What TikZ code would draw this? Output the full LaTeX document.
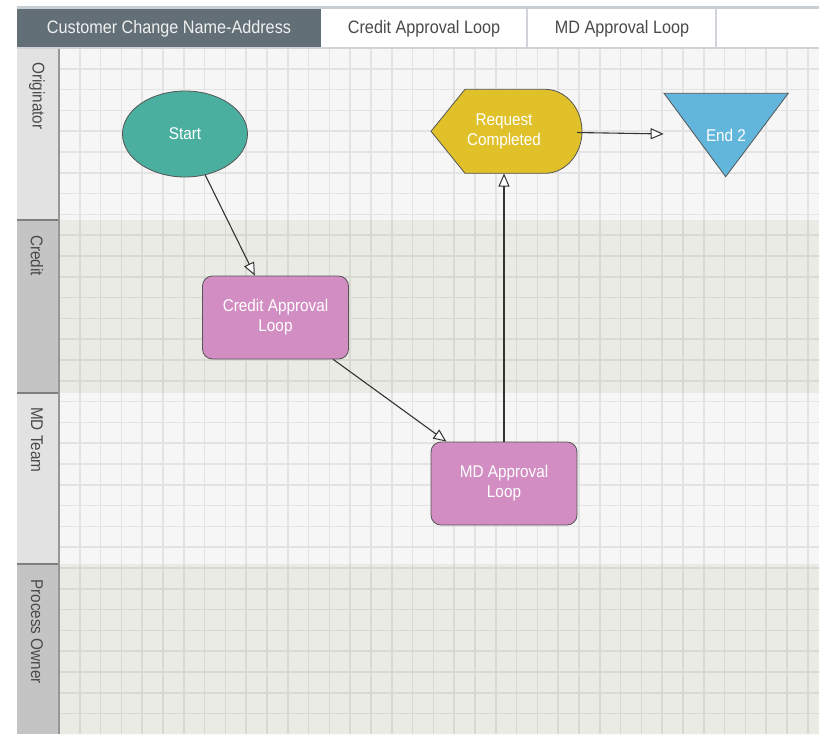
\documentclass[tikz,border=0pt]{standalone}
\usepackage{fontspec}
\setmainfont{Liberation Sans}[FakeStretch=0.9]
\usetikzlibrary{arrows.meta,shapes.geometric}
\definecolor{laneA}{HTML}{F6F6F6}
\definecolor{laneB}{HTML}{EBEBE6}
\definecolor{gridA}{HTML}{E3E3E3}
\definecolor{gridB}{HTML}{D9D9D3}
\definecolor{labA}{HTML}{E2E2E2}
\definecolor{labB}{HTML}{C4C4C4}
\definecolor{labline}{HTML}{7E7E7E}
\definecolor{tabdark}{HTML}{636F77}
\definecolor{tabline}{HTML}{D0D4D8}
\definecolor{tabtop}{HTML}{C9CED3}
\definecolor{tabtext}{HTML}{4A4A4A}
\definecolor{teal}{HTML}{4BAFA0}
\definecolor{pinkbox}{HTML}{D28EC2}
\definecolor{mustard}{HTML}{E0C12A}
\definecolor{skyblue}{HTML}{62B6DC}
\definecolor{outline}{HTML}{555555}
\definecolor{linec}{HTML}{333333}
\begin{document}
\begin{tikzpicture}[x=1pt,y=-1pt,
  tabtextstyle/.style={font=\fontsize{18}{20}\selectfont, inner sep=0pt},
  lanelabel/.style={font=\fontsize{17}{20}\selectfont, text=tabtext, rotate=-90, anchor=west, inner sep=0pt},
  nodetext/.style={font=\fontsize{17}{20}\selectfont, text=white, align=center, inner sep=0pt},
  shapeline/.style={draw=outline, line width=0.8pt},
  boxnode/.style={nodetext, shapeline, fill=pinkbox, rectangle, rounded corners=10pt, minimum width=146pt, minimum height=83pt},
  flow/.style={draw=linec, line width=1.1pt, -{Triangle[length=13pt,width=11pt,fill=white,line width=1pt]}},
  gridlineA/.style={draw=gridA, line width=1.6pt},
  gridlineB/.style={draw=gridB, line width=1.6pt}]
\useasboundingbox (0,0) rectangle (819,734);
\fill[white] (0,0) rectangle (819,734);

% lane backgrounds
\fill[laneA] (59,48) rectangle (819,220);
\fill[laneB] (59,220) rectangle (819,393);
\fill[laneA] (59,393) rectangle (819,564);
\fill[laneB] (59,564) rectangle (819,734);

% grids
\begin{scope}
\clip (59,48) rectangle (819,220) (59,393) rectangle (819,564);
\foreach \i in {1,...,37} {\draw[gridlineA] (59+20.8*\i,48) -- (59+20.8*\i,734);}
\foreach \j in {0,...,33} {\draw[gridlineA] (59,48+20.8*\j) -- (819,48+20.8*\j);}
\end{scope}
\begin{scope}
\clip (59,220) rectangle (819,393) (59,564) rectangle (819,734);
\foreach \i in {1,...,37} {\draw[gridlineB] (59+20.8*\i,48) -- (59+20.8*\i,734);}
\foreach \j in {0,...,33} {\draw[gridlineB] (59,48+20.8*\j) -- (819,48+20.8*\j);}
\end{scope}

% lane label column
\fill[labA] (17,48) rectangle (59,220);
\fill[labB] (17,220) rectangle (59,393);
\fill[labA] (17,393) rectangle (59,564);
\fill[labB] (17,564) rectangle (59,734);
\draw[labline, line width=1.2pt] (17,220) -- (59,220) (17,393) -- (59,393) (17,564) -- (59,564);
\draw[draw=labline!80, line width=1.8pt] (59,48) -- (59,734);
\node[lanelabel] (lab1) at (37,62) {Originator};
\node[lanelabel] (lab2) at (37,235) {Credit};
\node[lanelabel] (lab3) at (37,407) {MD Team};
\node[lanelabel] (lab4) at (37,579) {Process Owner};

% tab bar
\fill[tabtop] (17,6) rectangle (819,9.3);
\fill[white] (17,9.3) rectangle (819,47.7);
\fill[tabdark] (17,9.3) rectangle (321,47.7);
\draw[tabline, line width=1.2pt] (527,9.3) -- (527,47.7) (716,9.3) -- (716,47.7);
\draw[tabline, line width=1.6pt] (17,48) -- (819,48);
\node[tabtextstyle, text=white!94!black] (tab1) at (169,28.5) {Customer Change Name-Address};
\node[tabtextstyle, text=tabtext] (tab2) at (424,28.5) {Credit Approval Loop};
\node[tabtextstyle, text=tabtext] (tab3) at (622,28.5) {MD Approval Loop};

% shapes drawn as paths
\path[shapeline, fill=mustard] (431,131.3) -- (465,89.3) -- (545,89.3)
  .. controls (565.4,89.3) and (582,108.1) .. (582,131.3)
  .. controls (582,154.5) and (565.4,173.3) .. (545,173.3)
  -- (465,173.3) -- cycle;
\path[shapeline, fill=skyblue] (664,93.3) -- (788.3,93.3) -- (725.7,176.7) -- cycle;

% nodes
\node[nodetext, shapeline, fill=teal, ellipse, minimum width=125pt, minimum height=86pt] (start) at (185,134) {Start};
\node[boxnode] (credit) at (275.5,317.5) {Credit Approval\\Loop};
\node[boxnode] (md) at (504,483.5) {MD Approval\\Loop};
\node[nodetext, rectangle, minimum width=146pt, minimum height=84pt] (req) at (504,131.3) {Request\\Completed};
\node[nodetext, rectangle, minimum width=124.3pt, minimum height=83.4pt] (end2) at (726,135) {End 2};

% connectors
\draw[flow] (start) -- (credit);
\draw[flow] (credit) -- (md);
\draw[flow] (md) -- (req);
\draw[flow] (req) -- (end2);
\end{tikzpicture}
\end{document}
